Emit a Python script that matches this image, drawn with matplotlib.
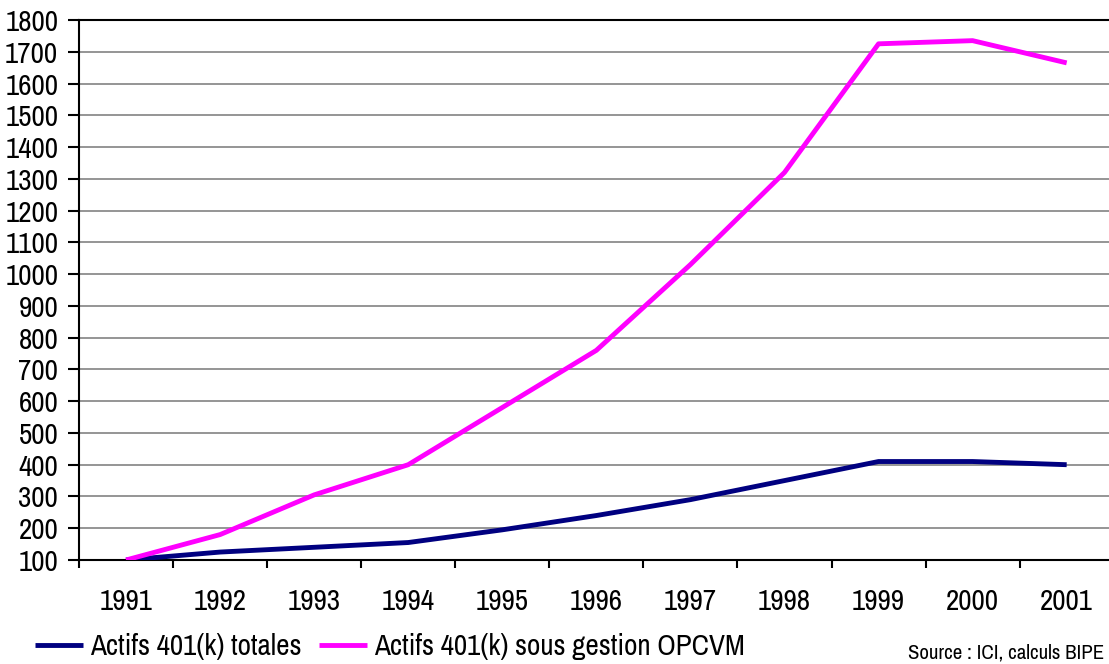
import matplotlib.pyplot as plt
from matplotlib.ticker import FixedLocator, MultipleLocator

years = ["1991", "1992", "1993", "1994", "1995", "1996", "1997", "1998", "1999", "2000", "2001"]
actifs_totales = [100, 125, 140, 155, 195, 240, 290, 350, 410, 410, 400]
actifs_opcvm = [100, 180, 305, 400, 580, 760, 1030, 1320, 1725, 1735, 1665]

plt.rcParams['font.family'] = ['Archivo Narrow', 'Liberation Sans', 'DejaVu Sans']

fig = plt.figure(figsize=(11.09, 6.64), dpi=100)
ax = fig.add_axes([79 / 1109, 1 - 560 / 664, 1 - 79 / 1109, (560 - 20) / 664])

x = list(range(len(years)))
ax.plot(x, actifs_totales, color="#000080", lw=3.5, solid_capstyle="butt", label="Actifs 401(k) totales", zorder=3)
ax.plot(x, actifs_opcvm, color="#ff00ff", lw=3.5, solid_capstyle="butt", label="Actifs 401(k) sous gestion OPCVM", zorder=4)

ax.set_ylim(100, 1800)
ax.set_xlim(-0.5, 10.45)
ax.yaxis.set_major_locator(MultipleLocator(100))
ax.grid(axis="y", color="#8c8c8c", lw=1.3)
ax.set_axisbelow(True)

ax.xaxis.set_major_locator(FixedLocator([i - 0.5 for i in range(len(years) + 1)]))
ax.xaxis.set_minor_locator(FixedLocator(x))
ax.set_xticklabels([], minor=False)
ax.set_xticklabels(years, minor=True, fontsize=21)
ax.tick_params(axis="x", which="major", direction="out", length=6, width=1.5)
ax.tick_params(axis="x", which="minor", length=0, pad=20)
ax.tick_params(axis="y", direction="out", length=8, width=1.5, labelsize=21, pad=7)

ax.spines["right"].set_visible(False)
for side in ["top", "left", "bottom"]:
    ax.spines[side].set_linewidth(1.5)

fig.legend(loc="center left", bbox_to_anchor=(0.018, 1 - 647 / 664), ncol=2, frameon=False,
           fontsize=21, handlelength=1.65, handletextpad=0.25, borderpad=0, columnspacing=0.6)

fig.text(1104 / 1109, 1 - 653 / 664, "Source : ICI, calculs BIPE", ha="right", va="center", fontsize=15)

fig.savefig("out.png", dpi=100)
